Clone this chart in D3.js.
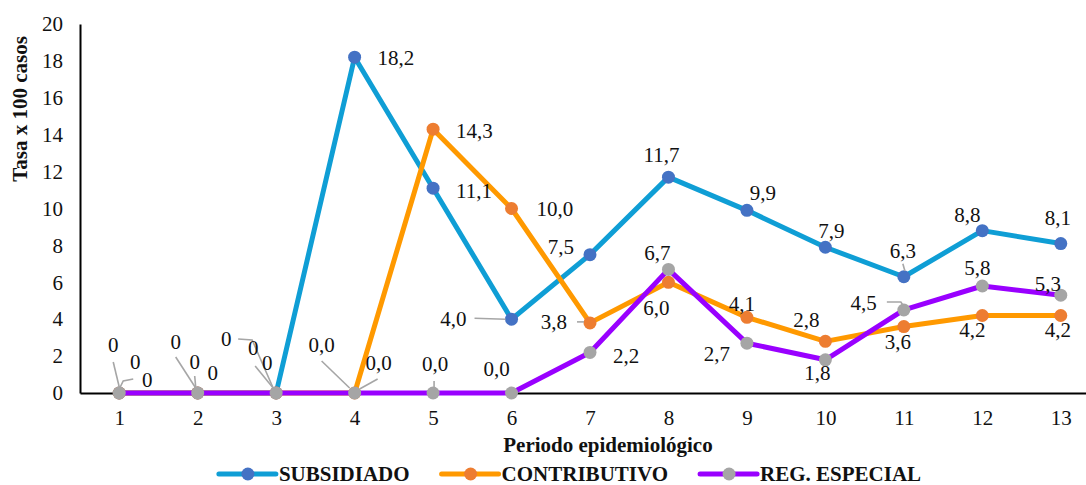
<!DOCTYPE html>
<html>
<head>
<meta charset="utf-8">
<script src="https://cdn.jsdelivr.net/npm/d3@7"></script>
<style>
  html, body { margin: 0; padding: 0; background: #ffffff; }
  svg { display: block; }
  svg text { font-family: "Liberation Serif", "Times New Roman", serif; }
</style>
</head>
<body>
<svg id="chart" width="1086" height="485"></svg>
<script>
// Periodos epidemiológicos y tasas (x 100 casos) por régimen
const periods = ["1","2","3","4","5","6","7","8","9","10","11","12","13"];
const subsidiado   = [0, 0, 0, 18.2, 11.1, 4.0, 7.5, 11.7, 9.9, 7.9, 6.3, 8.8, 8.1];
const contributivo = [0, 0, 0, 0, 14.3, 10.0, 3.8, 6.0, 4.1, 2.8, 3.6, 4.2, 4.2];
const regEspecial  = [0, 0, 0, 0, 0, 0, 2.2, 6.7, 2.7, 1.8, 4.5, 5.8, 5.3];
const yTicks = [0, 2, 4, 6, 8, 10, 12, 14, 16, 18, 20];
const seriesNames = ["SUBSIDIADO", "CONTRIBUTIVO", "REG. ESPECIAL"];

// Label placement per point: [dx, dy, anchor] relative to the marker
const labelPlacement = [
  [[-6,-48,"middle"],[-22,-51,"middle"],[-50,-54,"middle"],[23,0,"start"],[23,2,"start"],[-45,-1,"end"],
   [-16,-8,"end"],[-7,-22,"middle"],[16,-18,"middle"],[6,-17,"middle"],[-1,-26,"middle"],[-15,-16,"middle"],[-3,-26,"middle"]],
  [[16,-31,"middle"],[-3,-31,"middle"],[-23,-45,"middle"],[-33,-48,"middle"],[23,1,"start"],[25,0,"start"],
   [-23,-1,"end"],[-12,25,"middle"],[-5,-14,"middle"],[-19,-22,"middle"],[-6,15,"middle"],[-10,14,"middle"],[-3,14,"middle"]],
  [[28,-13,"middle"],[15,-20,"middle"],[-9,-30,"middle"],[24,-30,"middle"],[2,-29,"middle"],[-15,-24,"middle"],
   [23,3,"start"],[-11,-17,"middle"],[-30,10,"middle"],[-8,13,"middle"],[-27,-7,"end"],[-5,-18,"middle"],[-13,-12,"middle"]]
];
// Leader lines (relative polylines) keyed by point index
const leaderLines = [
  {0: [[-6,-31],[0,-6]], 1: [[-22,-36],[-2,-5]], 2: [[-38,-54],[-24,-53],[-3,-5]], 5: [[-37,-1],[-6,0]], 10: [[-1,-13],[1,-6]]},
  {1: [[-3,-17],[-2,-6]], 3: [[-33,-32],[-5,-5]], 6: [[-13,-1],[-6,-1]]},
  {0: [[14,-14],[4,-12],[1,-6]], 2: [[-21,-27],[-3,-5]], 3: [[23,-14],[5,-4]], 4: [[1,-12],[1,-6]], 10: [[-17,-8],[-3,-8],[-1,-5]]}
];

const lineColors = ["#0F9ED5", "#FF9900", "#9900FF"];
const markerColors = ["#4472C4", "#ED7D31", "#A5A5A5"];
const FONT = 21;
const SERIF = "Liberation Serif, Times New Roman, serif";

const svg = d3.select("#chart");
const x = d3.scalePoint().domain(periods).range([80, 1100]).padding(0.5);
const y = d3.scaleLinear().domain([0, 20]).range([393, 24]);

// Y axis
const yAxis = svg.append("g")
  .attr("transform", "translate(80,0)")
  .call(d3.axisLeft(y).tickValues(yTicks).tickSize(0).tickPadding(17).tickFormat(d3.format("d")))
  .attr("font-family", SERIF);
yAxis.select(".domain").attr("stroke", "#000").attr("stroke-width", 2);
yAxis.selectAll("text").attr("font-size", FONT).attr("fill", "#111");

// X axis
const xAxis = svg.append("g")
  .attr("transform", "translate(0,393)")
  .call(d3.axisBottom(x).tickSize(0).tickPadding(17))
  .attr("font-family", SERIF);
xAxis.select(".domain").attr("stroke", "#000").attr("stroke-width", 2);
xAxis.selectAll("text").attr("font-size", FONT).attr("fill", "#111");

// Axis titles
svg.append("text")
  .attr("transform", "translate(27,109) rotate(-90)")
  .attr("text-anchor", "middle")
  .attr("font-family", SERIF)
  .attr("font-size", FONT).attr("font-weight", "bold").attr("fill", "#111")
  .text("Tasa x 100 casos");
svg.append("text")
  .attr("x", 608).attr("y", 445).attr("dy", "0.35em")
  .attr("text-anchor", "middle")
  .attr("font-family", SERIF)
  .attr("font-size", FONT).attr("font-weight", "bold").attr("fill", "#111")
  .text("Periodo epidemiológico");

const allSeries = [subsidiado, contributivo, regEspecial];
const fmt = (v, i) => i < 3 ? d3.format(".0f")(v) : d3.format(".1f")(v).replace(".", ",");

const line = d3.line().x((d, i) => x(periods[i])).y(d => y(d));

allSeries.forEach((vals, s) => {
  const g = svg.append("g");
  g.append("path")
    .datum(vals)
    .attr("d", line)
    .attr("fill", "none")
    .attr("stroke", lineColors[s])
    .attr("stroke-width", 5)
    .attr("stroke-linejoin", "round");
  g.selectAll("circle")
    .data(vals)
    .join("circle")
    .attr("cx", (d, i) => x(periods[i]))
    .attr("cy", d => y(d))
    .attr("r", 6.5)
    .attr("fill", markerColors[s]);
});

// Data labels and leader lines
allSeries.forEach((vals, s) => {
  const g = svg.append("g").attr("font-family", SERIF);
  Object.entries(leaderLines[s]).forEach(([k, pts]) => {
    const i = +k;
    const px = x(periods[i]), py = y(vals[i]);
    g.append("polyline")
      .attr("points", pts.map(p => [px + p[0], py + p[1]].join(",")).join(" "))
      .attr("fill", "none")
      .attr("stroke", "#A6A6A6")
      .attr("stroke-width", 1.6);
  });
  g.selectAll("text")
    .data(vals)
    .join("text")
    .attr("x", (d, i) => x(periods[i]) + labelPlacement[s][i][0])
    .attr("y", (d, i) => y(d) + labelPlacement[s][i][1])
    .attr("dy", "0.35em")
    .attr("text-anchor", (d, i) => labelPlacement[s][i][2])
    .attr("font-size", FONT)
    .attr("fill", "#111")
    .text((d, i) => fmt(d, i));
});

// Legend
const legend = svg.append("g").attr("font-family", SERIF);
const items = seriesNames.map((name, s) => {
  const it = legend.append("g");
  it.append("line")
    .attr("x1", 0).attr("x2", 57).attr("y1", 0).attr("y2", 0)
    .attr("stroke", lineColors[s]).attr("stroke-width", 5).attr("stroke-linecap", "round");
  it.append("circle").attr("cx", 29).attr("cy", 0).attr("r", 6.5).attr("fill", markerColors[s]);
  const t = it.append("text")
    .attr("x", 60).attr("dy", "0.35em")
    .attr("font-size", FONT).attr("font-weight", "bold").attr("fill", "#111")
    .text(name);
  return { it, w: 60 + t.node().getComputedTextLength() };
});
const gap = 32;
const total = d3.sum(items, d => d.w) + gap * (items.length - 1);
let cx = 570 - total / 2;
items.forEach(d => {
  d.it.attr("transform", `translate(${cx},474)`);
  cx += d.w + gap;
});
</script>
</body>
</html>
